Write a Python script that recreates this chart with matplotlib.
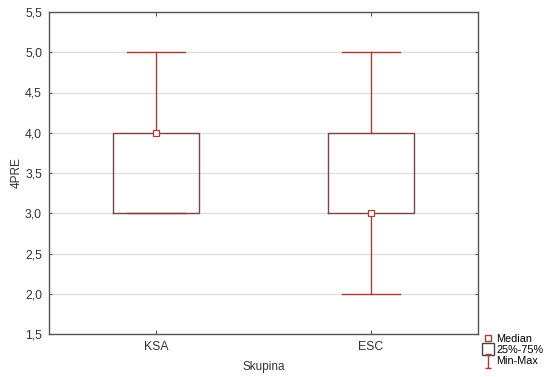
import matplotlib
matplotlib.use("Agg")
import matplotlib.pyplot as plt
from matplotlib.lines import Line2D
from matplotlib.path import Path

categories = ["KSA", "ESC"]
mins = [3.0, 2.0]
q1 = [3.0, 3.0]
medians = [4.0, 3.0]
q3 = [4.0, 4.0]
maxs = [5.0, 5.0]
yticks = [1.5, 2.0, 2.5, 3.0, 3.5, 4.0, 4.5, 5.0, 5.5]

box_col = "#7a4646"
wh_col = "#b03a3a"
plt.rcParams['font.family'] = ['Arial', 'Liberation Sans', 'DejaVu Sans']

fig = plt.figure(figsize=(5.5, 3.77), dpi=100)
ax = fig.add_axes([49/550, 1-334/377, 429/550, 322/377])

stats = []
for i, c in enumerate(categories):
    stats.append(dict(label=c, whislo=mins[i], q1=q1[i], med=medians[i], q3=q3[i], whishi=maxs[i]))
pos = list(range(len(categories)))
ax.bxp(stats, positions=pos, widths=0.4, showfliers=False,
       boxprops=dict(color=box_col, linewidth=1.0, zorder=3.5),
       whiskerprops=dict(color=wh_col, linewidth=1.0, zorder=3),
       capprops=dict(color=wh_col, linewidth=1.0, zorder=3),
       medianprops=dict(linewidth=0), capwidths=0.27)
ax.plot(pos, medians, linestyle='none', marker='s', markersize=4,
        markerfacecolor='white', markeredgecolor=wh_col, markeredgewidth=0.9, zorder=4)

ax.set_xlim(-0.5, 1.5)
ax.set_ylim(1.5, 5.5)
ax.set_yticks(yticks)
ax.set_yticklabels([f"{v:.1f}".replace(".", ",") for v in yticks])
ax.set_xticks(pos)
ax.set_xticklabels(categories)
ax.yaxis.grid(True, color="#dcdcdc", linewidth=0.9, zorder=0)
ax.set_axisbelow(True)
ax.tick_params(axis='both', direction='in', length=3, labelsize=8.8, colors='#555555', labelcolor='#333333', top=True, right=True, pad=5)
ax.tick_params(axis='y', length=2)
for s in ax.spines.values():
    s.set_color('#555555')
    s.set_linewidth(1.0)
ax.set_xlabel("Skupina", fontsize=8.5, color='#333333', labelpad=6)
ax.set_ylabel("4PRE", fontsize=8.5, color='#333333', labelpad=2)

ibeam = Path([(-0.5, 1), (0.5, 1), (0, 1), (0, -1), (-0.5, -1), (0.5, -1)],
             [Path.MOVETO, Path.LINETO, Path.MOVETO, Path.LINETO, Path.MOVETO, Path.LINETO])
handles = [
    Line2D([], [], linestyle='none', marker='s', markersize=4, markerfacecolor='white', markeredgecolor=wh_col),
    Line2D([], [], linestyle='none', marker='s', markersize=8, markerfacecolor='white', markeredgecolor='#444444'),
    Line2D([], [], linestyle='none', marker=ibeam, markersize=10, markerfacecolor='none', markeredgecolor=wh_col),
]
fig.legend(handles, ["Median", "25%-75%", "Min-Max"], loc='upper left',
           bbox_to_anchor=(481/550, 1-332/377), frameon=False, fontsize=7.8,
           handlelength=0.8, handletextpad=0.4, labelspacing=0.1, borderpad=0.2, borderaxespad=0)

fig.savefig("out.png", dpi=100)
